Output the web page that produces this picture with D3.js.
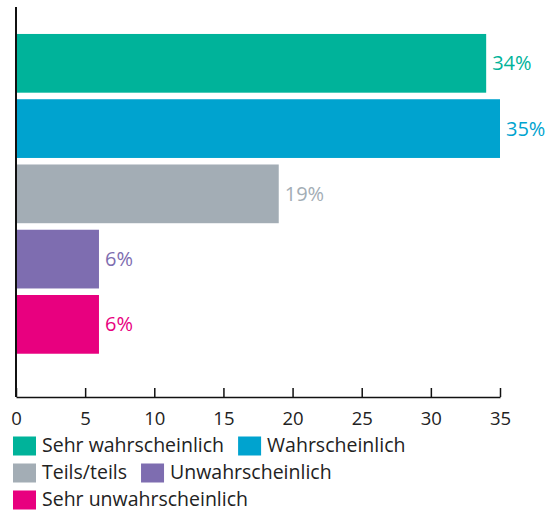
<!DOCTYPE html>
<html>
<head>
<meta charset="utf-8">
<script src="https://cdn.jsdelivr.net/npm/d3@7"></script>
<style>
  body { margin: 0; background: #fff; }
  svg { font-family: "Open Sans", Lato, sans-serif; }
</style>
</head>
<body>
<svg id="chart" width="550" height="514"></svg>
<script>
// data
const categories = ["Sehr wahrscheinlich", "Wahrscheinlich", "Teils/teils", "Unwahrscheinlich", "Sehr unwahrscheinlich"];
const values = [34, 35, 19, 6, 6];
const colors = ["#00b39a", "#00a3cf", "#a3adb5", "#7e6db0", "#e8007f"];
const xTicks = [0, 5, 10, 15, 20, 25, 30, 35];

const svg = d3.select("#chart");

const x = d3.scaleLinear().domain([0, 35]).range([16, 500]);
const y = d3.scaleBand().domain(categories).range([30.7, 357]).paddingInner(0.1).paddingOuter(0.05);
const color = d3.scaleOrdinal().domain(categories).range(colors);

const rows = categories.map((c, i) => ({ cat: c, v: values[i] }));

// bars
svg.selectAll("rect.bar")
    .data(rows)
    .enter()
    .append("rect")
    .attr("class", "bar")
    .attr("x", x(0))
    .attr("y", d => y(d.cat))
    .attr("width", d => x(d.v) - x(0))
    .attr("height", y.bandwidth())
    .attr("fill", d => color(d.cat));

// value labels
svg.selectAll("text.val")
    .data(rows)
    .enter()
    .append("text")
    .attr("class", "val")
    .attr("x", d => x(d.v) + 6)
    .attr("y", d => y(d.cat) + y.bandwidth() / 2)
    .attr("dy", "0.35em")
    .attr("font-size", 20)
    .attr("fill", d => color(d.cat))
    .text(d => d.v + "%");

// x axis
const axisY = 397;
const xAxis = svg.append("g")
    .attr("transform", "translate(0," + axisY + ")")
    .call(d3.axisBottom(x).tickValues(xTicks).tickSizeInner(-9).tickSizeOuter(0).tickPadding(15));
xAxis.select(".domain").attr("stroke", "#111").attr("stroke-width", 1.5);
xAxis.selectAll(".tick line").attr("stroke", "#111").attr("stroke-width", 1.5);
xAxis.selectAll(".tick text")
    .attr("font-family", "'Open Sans', sans-serif")
    .attr("font-size", 18.5)
    .attr("fill", "#222");

// y axis line
svg.append("line")
    .attr("x1", x(0)).attr("x2", x(0))
    .attr("y1", 7).attr("y2", axisY)
    .attr("stroke", "#111")
    .attr("stroke-width", 2);

// legend (flowing rows)
const legend = svg.append("g");
const rowYs = [446, 473, 500];
let lx = 13, row = 0;
const maxX = 450;
categories.forEach((c, i) => {
    const g = legend.append("g");
    g.append("rect")
        .attr("width", 23)
        .attr("height", 19)
        .attr("fill", color(c));
    const t = g.append("text")
        .attr("x", 29)
        .attr("y", 9.5)
        .attr("dy", "0.33em")
        .attr("font-size", 19.5)
        .attr("fill", "#222")
        .text(c);
    const w = 29 + t.node().getComputedTextLength();
    if (lx + w > maxX && lx > 13) { row++; lx = 13; }
    g.attr("transform", "translate(" + lx + "," + (rowYs[row] - 9.5) + ")");
    lx += w + 14;
});
</script>
</body>
</html>
